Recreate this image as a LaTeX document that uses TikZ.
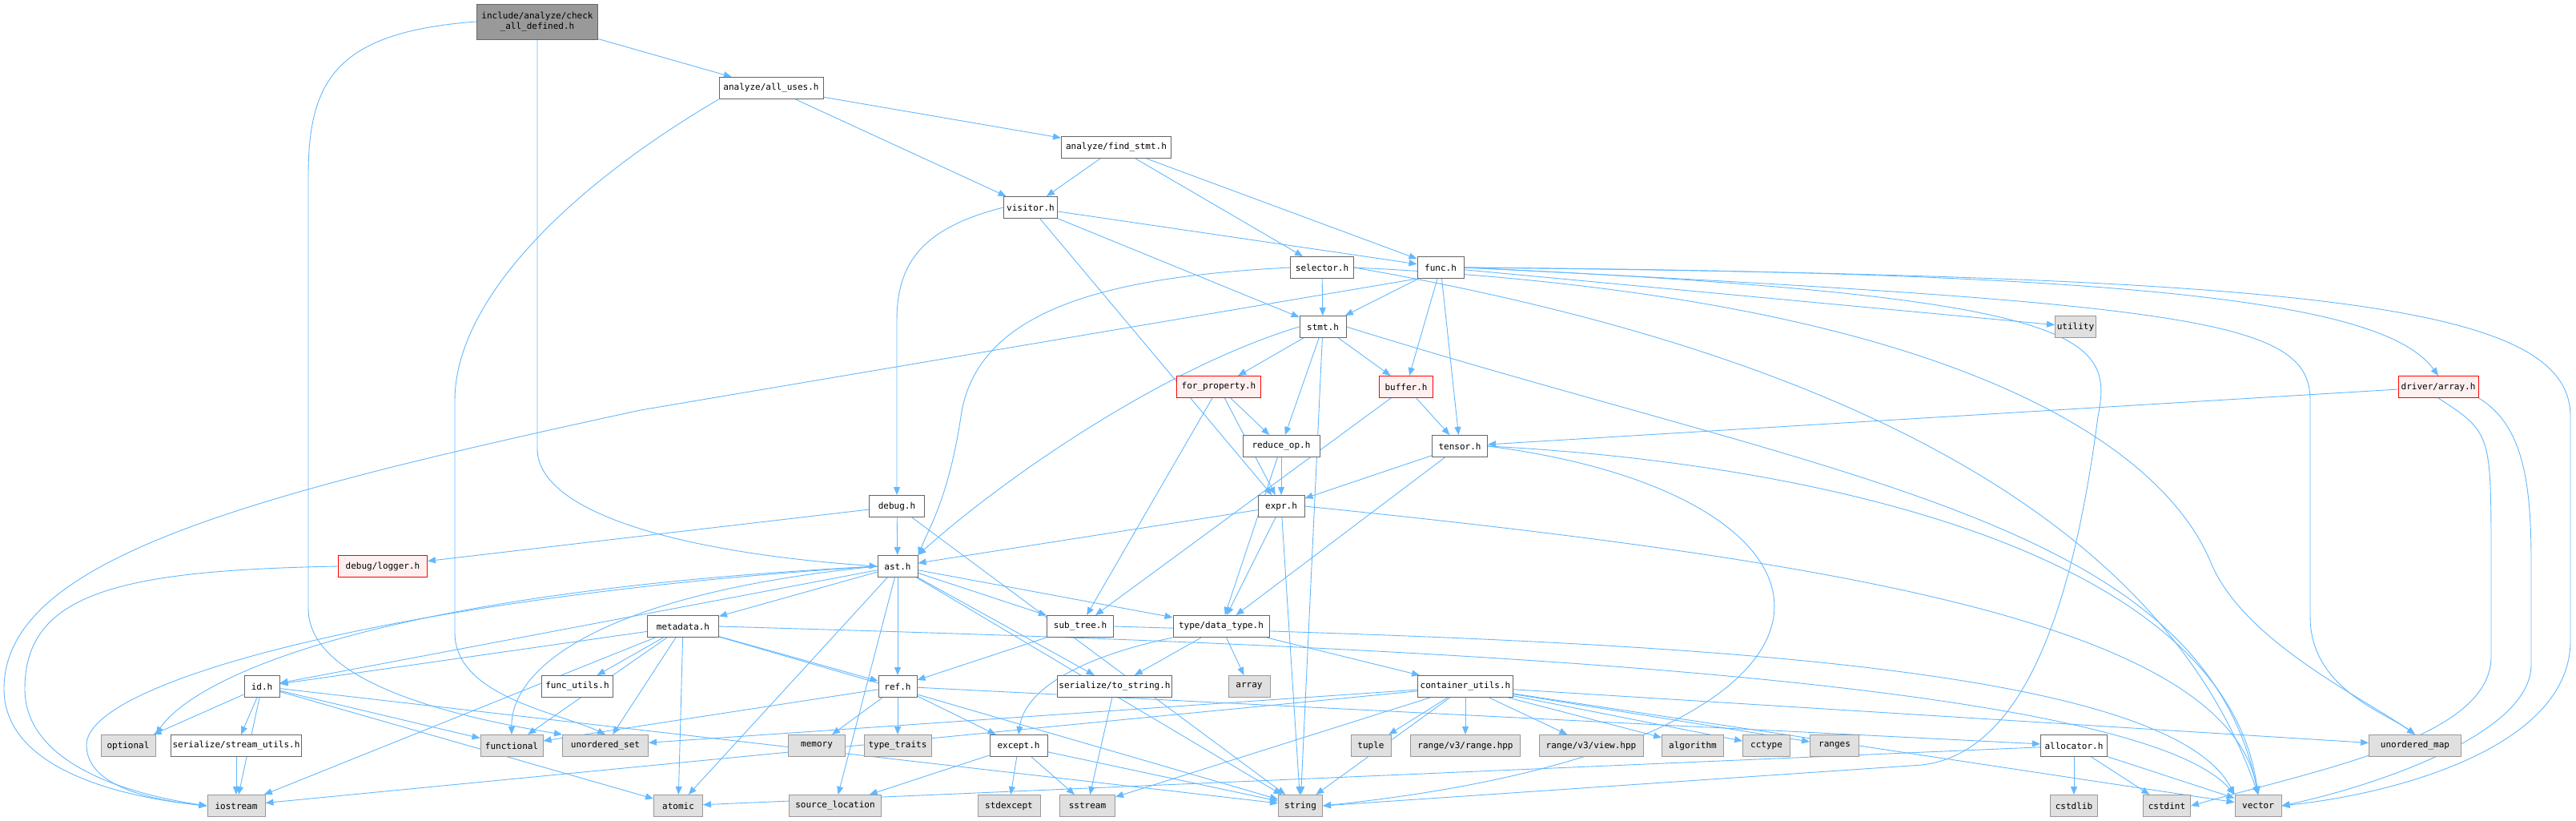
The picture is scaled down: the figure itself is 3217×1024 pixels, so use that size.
\documentclass[tikz,border=0pt]{standalone}
\usepackage{fontspec}
\usetikzlibrary{arrows.meta,backgrounds}
\newfontfamily\dxfont{DejaVu Sans Mono}
\definecolor{dxedge}{HTML}{63B8FF}
\definecolor{dxborder}{HTML}{666666}
\definecolor{dxsys}{HTML}{E0E0E0}
\definecolor{dxsysb}{HTML}{999999}
\definecolor{dxred}{HTML}{FFF0F0}
\begin{document}
\begin{tikzpicture}[
  x=0.5pt,y=-0.5pt,
  file/.style={draw=dxborder,fill=white,minimum height=13.5pt,inner xsep=1pt,
               inner ysep=0pt,line width=0.5pt,font=\dxfont\fontsize{5.5}{6.6}\selectfont},
  sys/.style={file,draw=dxsysb,fill=dxsys},
  trunc/.style={file,draw=red,fill=dxred},
  dep/.style={draw=dxedge,line width=0.45pt,-{Triangle[length=5pt,width=4pt]}}
]
\useasboundingbox (0,0) rectangle (3217,1024);
% Root
\node[file,fill=dxsysb,minimum width=75.5pt,minimum height=22pt,align=center]
  (root) at (671,27) {include/analyze/check\\\_all\_defined.h};
% Project headers
\node[file,minimum width=65pt]   (alluses)  at (963,110)  {analyze/all\_uses.h};
\node[file,minimum width=68.5pt] (findstmt) at (1394,184) {analyze/find\_stmt.h};
\node[file,minimum width=33.5pt] (visitor)  at (1287,259) {visitor.h};
\node[file,minimum width=39.5pt] (selector) at (1651,334) {selector.h};
\node[file,minimum width=29pt]   (func)     at (1799,334) {func.h};
\node[file,minimum width=29pt]   (stmt)     at (1652,408) {stmt.h};
\node[trunc,minimum width=33.5pt] (buffer)  at (1756,483) {buffer.h};
\node[trunc,minimum width=52.5pt] (forprop) at (1522,483) {for\_property.h};
\node[trunc,minimum width=50pt]  (drvarray) at (3045,483) {driver/array.h};
\node[file,minimum width=48pt]   (reduceop) at (1600,557) {reduce\_op.h};
\node[file,minimum width=34.5pt] (tensor)   at (1823,557) {tensor.h};
\node[file,minimum width=29pt]   (expr)     at (1600,632) {expr.h};
\node[file,minimum width=34.5pt] (debug)    at (1120,632) {debug.h};
\node[trunc,minimum width=55.5pt] (logger)  at (478,707)  {debug/logger.h};
\node[file,minimum width=25pt]   (ast)      at (1121,707) {ast.h};
\node[file,minimum width=44.5pt] (metadata) at (853,782)  {metadata.h};
\node[file,minimum width=41.5pt] (subtree)  at (1349,782) {sub\_tree.h};
\node[file,minimum width=60pt]   (datatype) at (1525,782) {type/data\_type.h};
\node[file,minimum width=22pt]   (id)       at (327,857)  {id.h};
\node[file,minimum width=44.5pt] (funcutils) at (721,857) {func\_utils.h};
\node[file,minimum width=24pt]   (ref)      at (1121,857) {ref.h};
\node[file,minimum width=68.5pt] (tostring) at (1392,857) {serialize/to\_string.h};
\node[file,minimum width=59.5pt] (contutils) at (1830,857) {container\_utils.h};
\node[file,minimum width=78.5pt] (streamutils) at (295,931) {serialize/stream\_utils.h};
\node[file,minimum width=36pt]   (except)   at (1272,931) {except.h};
\node[file,minimum width=41.5pt] (allocator) at (2590,931) {allocator.h};
% System headers
\node[sys,minimum width=25.5pt] (utility)   at (2592,408) {utility};
\node[sys,minimum width=26pt]   (array)     at (1560,857) {array};
\node[sys,minimum width=34pt]   (optional)  at (160,931)  {optional};
\node[sys,minimum width=39pt]   (functional) at (639,931) {functional};
\node[sys,minimum width=53.5pt] (uoset)     at (756,931)  {unordered\_set};
\node[sys,minimum width=35.5pt] (memory)    at (1020,931) {memory};
\node[sys,minimum width=42pt]   (typetraits) at (1121,931) {type\_traits};
\node[sys,minimum width=25pt]   (tuple)     at (1712,931) {tuple};
\node[sys,minimum width=68.5pt] (rangehpp)  at (1830,931) {range/v3/range.hpp};
\node[sys,minimum width=65pt]   (viewhpp)   at (1987,931) {range/v3/view.hpp};
\node[sys,minimum width=38.5pt] (algorithm) at (2114,931) {algorithm};
\node[sys,minimum width=29.5pt] (cctype)    at (2206,931) {cctype};
\node[sys,minimum width=30.5pt] (ranges)    at (2291,931) {ranges};
\node[sys,minimum width=57.5pt] (uomap)     at (3016,931) {unordered\_map};
\node[sys,minimum width=36pt]   (iostream)  at (295,1006) {iostream};
\node[sys,minimum width=30.5pt] (atomic)    at (847,1006) {atomic};
\node[sys,minimum width=57.5pt] (srcloc)    at (1043,1006) {source\_location};
\node[sys,minimum width=39pt]   (stdexcept) at (1260,1006) {stdexcept};
\node[sys,minimum width=34.5pt] (sstream)   at (1358,1006) {sstream};
\node[sys,minimum width=27.5pt] (string)    at (1624,1006) {string};
\node[sys,minimum width=29.5pt] (cstdlib)   at (2590,1006) {cstdlib};
\node[sys,minimum width=29.5pt] (cstdint)   at (2706,1006) {cstdint};
\node[sys,minimum width=29pt]   (vector)    at (2820,1006) {vector};
\begin{pgfonlayer}{background}
% Straight includes
\foreach \a/\b in {root/alluses,alluses/findstmt,alluses/visitor,findstmt/visitor,
    findstmt/selector,findstmt/func,visitor/func,visitor/stmt,visitor/expr,
    selector/stmt,func/stmt,func/buffer,func/tensor,func/utility,
    stmt/forprop,stmt/buffer,stmt/reduceop,stmt/string,buffer/tensor,
    forprop/reduceop,forprop/expr,forprop/subtree,buffer/subtree,
    reduceop/expr,reduceop/datatype,tensor/expr,tensor/datatype,drvarray/tensor,
    expr/ast,expr/datatype,expr/string,debug/logger,debug/ast,debug/string,
    ast/metadata,ast/subtree,ast/datatype,ast/ref,ast/tostring,ast/id,ast/srcloc,
    ast/string,ast/atomic,metadata/id,metadata/funcutils,metadata/ref,
    metadata/functional,metadata/uoset,metadata/atomic,metadata/iostream,
    metadata/string,id/optional,id/streamutils,id/iostream,
    id/functional,id/atomic,id/string,streamutils/iostream,subtree/ref,
    datatype/contutils,datatype/array,datatype/tostring,
    ref/memory,ref/typetraits,ref/except,ref/functional,ref/allocator,
    tostring/sstream,contutils/tuple,contutils/rangehpp,contutils/viewhpp,
    contutils/algorithm,contutils/cctype,contutils/ranges,contutils/string,
    contutils/vector,contutils/uomap,contutils/uoset,contutils/iostream,
    contutils/sstream,except/stdexcept,except/sstream,except/srcloc,except/string,
    allocator/cstdlib,allocator/cstdint,allocator/vector,allocator/atomic}
  \draw[dep] (\a) -- (\b);
% Long bent includes
\draw[dep] (root.west) .. controls (420,40) and (385,100) .. (385,220)
  -- (385,760) .. controls (385,860) and (600,900) .. (uoset.north west);
\draw[dep] (root.south) -- (671,560) .. controls (671,640) and (850,690) .. (ast.west);
\draw[dep] (alluses.south west) .. controls (700,240) and (568,380) .. (568,500)
  -- (568,790) .. controls (568,870) and (700,890) .. (uoset.north);
\draw[dep] (visitor.west) .. controls (1150,285) and (1120,330) .. (1120,400) -- (debug.north);
\draw[dep] (selector.west) .. controls (1400,345) and (1220,380) .. (1200,520)
  .. controls (1185,620) and (1160,660) .. (ast.north east);
\draw[dep] (stmt.west) .. controls (1450,460) and (1250,600) .. (ast.north east);
\draw[dep] (datatype.south west) .. controls (1350,820) and (1280,860) .. (except.north);
\draw[dep] (func.south west) -- (800,512) .. controls (300,620) and (5,700) .. (5,860)
  .. controls (5,960) and (150,995) .. (iostream.west);
\draw[dep] (logger.west) .. controls (150,712) and (31,740) .. (31,860)
  .. controls (31,950) and (150,990) .. (iostream.west);
\draw[dep] (ast.west) .. controls (500,745) and (108,850) .. (108,930)
  .. controls (108,985) and (200,1000) .. (iostream.west);
\draw[dep] (ast.west) .. controls (450,740) and (240,850) .. (optional.north east);
\draw[dep] (ast.west) .. controls (760,740) and (638,830) .. (functional.north);
% Lines into vector from the left
\draw[dep] (expr.east) .. controls (2300,700) and (2780,780) .. (vector.north);
\draw[dep] (subtree.east) .. controls (2000,800) and (2700,820) .. (vector.north west);
\draw[dep] (metadata.east) .. controls (1500,800) and (2650,830) .. (vector.north west);
% Right hand fan of func.h
\draw[dep] (func.east) .. controls (2700,340) and (2980,380) .. (drvarray.north);
\draw[dep] (func.east) .. controls (2750,380) and (2885,400) .. (2885,500)
  -- (2885,770) .. controls (2885,860) and (2980,890) .. (uomap.north);
\draw[dep] (func.east) .. controls (2900,345) and (3210,380) .. (3210,520)
  -- (3210,800) .. controls (3210,930) and (3000,990) .. (vector.east);
\draw[dep] (func.east) .. controls (2610,370) and (2640,420) .. (2620,520)
  .. controls (2590,750) and (2530,940) .. (2400,955) -- (string.east);
\draw[dep] (selector.east) .. controls (2450,370) and (2700,560) .. (2760,700)
  .. controls (2800,800) and (2950,870) .. (uomap.north);
\draw[dep] (selector.east) .. controls (2300,440) and (2700,650) .. (vector.north);
\draw[dep] (stmt.east) .. controls (2300,600) and (2750,650) .. (vector.north);
\draw[dep] (tensor.east) .. controls (2300,580) and (2780,700) .. (vector.north);
\draw[dep] (tensor.east) .. controls (2350,620) and (2380,930) .. (string.east);
\draw[dep] (drvarray.south east) .. controls (3150,530) and (3161,600) .. (3161,700)
  -- (3161,830) .. controls (3161,920) and (2950,985) .. (vector.east);
\draw[dep] (drvarray.south) .. controls (3111,540) .. (3111,700)
  -- (3111,820) .. controls (3111,920) and (2900,960) .. (cstdint.east);
\end{pgfonlayer}
\end{tikzpicture}
\end{document}
